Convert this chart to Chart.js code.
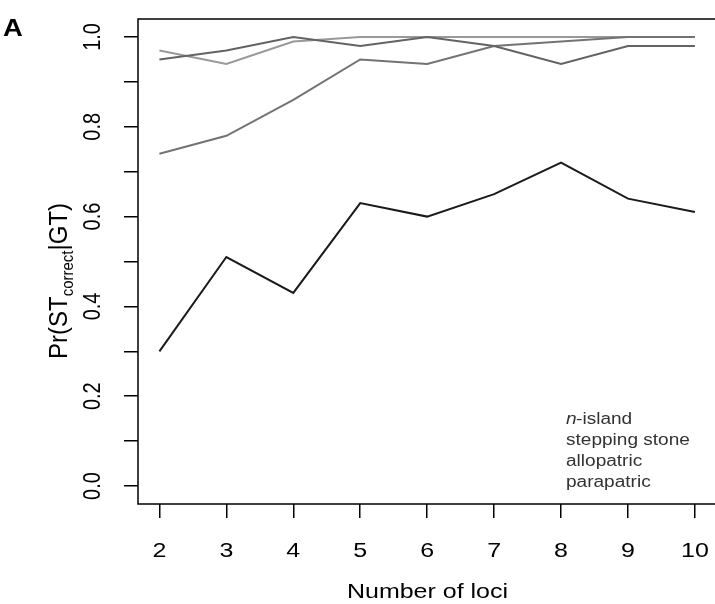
<!DOCTYPE html>
<html>
<head>
<meta charset="utf-8">
<script src="https://cdn.jsdelivr.net/npm/chart.js@4"></script>
<style>
  html, body { margin: 0; padding: 0; background: #fff; }
  #wrap { width: 715px; height: 604px; }
</style>
</head>
<body>
<div id="wrap"><canvas id="myLineChart" width="715" height="604"></canvas></div>
<script>
const loci = [2, 3, 4, 5, 6, 7, 8, 9, 10];
const seriesNames = ['n-island', 'stepping stone', 'allopatric', 'parapatric'];
const nIsland = [0.30, 0.51, 0.43, 0.63, 0.60, 0.65, 0.72, 0.64, 0.61];
const steppingStone = [0.95, 0.97, 1.00, 0.98, 1.00, 0.98, 0.94, 0.98, 0.98];
const allopatric = [0.74, 0.78, 0.86, 0.95, 0.94, 0.98, 0.99, 1.00, 1.00];
const parapatric = [0.97, 0.94, 0.99, 1.00, 1.00, 1.00, 1.00, 1.00, 1.00];
const yTicks = [0, 0.1, 0.2, 0.3, 0.4, 0.5, 0.6, 0.7, 0.8, 0.9, 1.0];
const yLabels = ['0.0', '0.2', '0.4', '0.6', '0.8', '1.0'];

const lineColors = ['#1a1a1a', '#636363', '#737373', '#999999'];
const FONT = 'Liberation Sans, Arial, Helvetica, sans-serif';
const SX = 1.19; // the original figure is a bit wider than tall

const toPoints = (vals) => vals.map((v, i) => ({ x: loci[i], y: v }));

// text stretched horizontally (screen x), optionally rotated
function putText(ctx, text, x, y, font, align, baseline, rotated) {
  ctx.save();
  ctx.translate(x, y);
  if (rotated) {
    ctx.rotate(-Math.PI / 2);
    ctx.scale(1, SX);
  } else {
    ctx.scale(SX, 1);
  }
  ctx.font = font;
  ctx.textAlign = align;
  ctx.textBaseline = baseline;
  ctx.fillText(text, 0, 0);
  ctx.restore();
}

// box, tick labels, axis titles, legend text, panel letter
const extras = {
  id: 'extras',
  afterDraw(chart) {
    const { ctx, chartArea: a, scales } = chart;
    ctx.save();
    ctx.strokeStyle = '#000';
    ctx.lineWidth = 1.5;
    ctx.beginPath();
    ctx.moveTo(a.right + 2, a.top);
    ctx.lineTo(a.left, a.top);
    ctx.lineTo(a.left, a.bottom);
    ctx.lineTo(a.right + 2, a.bottom);
    ctx.stroke();

    ctx.fillStyle = '#000';
    const tickFont = '20px ' + FONT;
    yLabels.forEach((lab) => {
      const py = scales.y.getPixelForValue(parseFloat(lab));
      putText(ctx, lab, 93, py, tickFont, 'center', 'middle', true);
    });
    loci.forEach((v) => {
      const px = scales.x.getPixelForValue(v);
      putText(ctx, String(v), px, 551, '21px ' + FONT, 'center', 'middle', false);
    });
    putText(ctx, 'Number of loci', (a.left + a.right + 2) / 2, 598, '21px ' + FONT, 'center', 'alphabetic', false);

    // y axis title: Pr(ST_correct|GT)
    ctx.save();
    ctx.translate(57, 281);
    ctx.rotate(-Math.PI / 2);
    ctx.scale(1, 1.1);
    const big = '24px ' + FONT;
    const small = '15px ' + FONT;
    const parts = [['Pr(ST', big, 9], ['correct', small, 14.5], ['|GT)', big, 9]];
    let total = 0;
    parts.forEach(([t, f]) => { ctx.font = f; total += ctx.measureText(t).width; });
    let x = -total / 2;
    ctx.textAlign = 'left';
    ctx.textBaseline = 'alphabetic';
    parts.forEach(([t, f, by]) => {
      ctx.font = f;
      ctx.fillText(t, x, by);
      x += ctx.measureText(t).width;
    });
    ctx.restore();

    // legend (text only)
    ctx.fillStyle = '#333';
    seriesNames.forEach((name, i) => {
      const ly = 420 + i * 21;
      if (name.startsWith('n-')) {
        putText(ctx, 'n', 566, ly, 'italic 16px ' + FONT, 'left', 'middle', false);
        ctx.font = 'italic 16px ' + FONT;
        const w = ctx.measureText('n').width * 1.13;
        putText(ctx, name.slice(1), 566 + w, ly, '16px ' + FONT, 'left', 'middle', false);
      } else {
        putText(ctx, name, 566, ly, '16px ' + FONT, 'left', 'middle', false);
      }
    });

    ctx.fillStyle = '#000';
    putText(ctx, 'A', 3, 30, 'bold 23px ' + FONT, 'left', 'middle', false);
    ctx.restore();
  }
};

new Chart(document.getElementById('myLineChart').getContext('2d'), {
  type: 'line',
  data: {
    datasets: [nIsland, steppingStone, allopatric, parapatric].map((vals, i) => ({
      label: seriesNames[i],
      data: toPoints(vals),
      borderColor: lineColors[i],
      borderWidth: 2,
      pointRadius: 0,
      tension: 0,
      fill: false,
    })),
  },
  options: {
    responsive: false,
    animation: false,
    layout: { padding: { top: 19, right: 0, left: 0, bottom: 0 } },
    plugins: { legend: { display: false }, tooltip: { enabled: false } },
    scales: {
      x: {
        type: 'linear',
        min: 1.68,
        max: 10.30,
        afterBuildTicks: (s) => { s.ticks = loci.map((v) => ({ value: v })); },
        afterFit: (s) => { s.height = 100; s.paddingLeft = 0; s.paddingRight = 0; },
        grid: { drawOnChartArea: false, drawTicks: true, tickLength: 14, color: '#000', lineWidth: 1.5 },
        border: { display: false },
        ticks: { display: false },
      },
      y: {
        type: 'linear',
        min: -0.04,
        max: 1.04,
        afterBuildTicks: (s) => { s.ticks = yTicks.map((v) => ({ value: v })); },
        afterFit: (s) => { s.width = 138; s.paddingTop = 0; s.paddingBottom = 0; },
        grid: { drawOnChartArea: false, drawTicks: true, tickLength: 14, color: '#000', lineWidth: 1.5 },
        border: { display: false },
        ticks: { display: false },
      },
    },
  },
  plugins: [extras],
});
</script>
</body>
</html>
